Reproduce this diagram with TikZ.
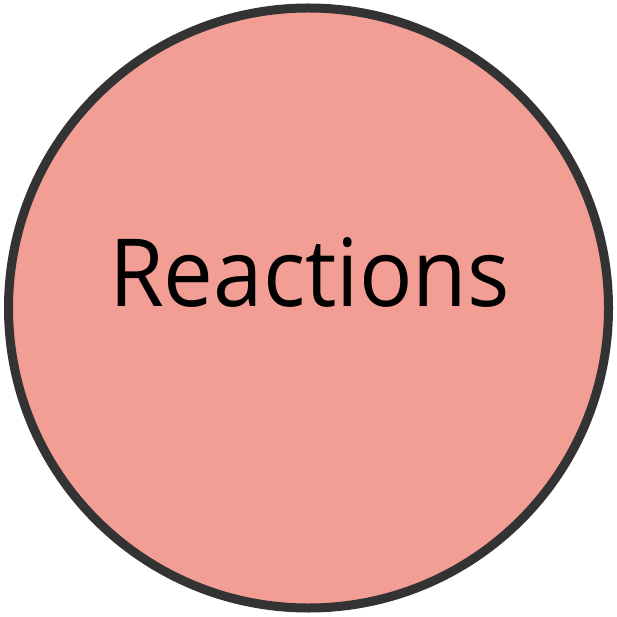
\documentclass[tikz,border=0pt]{standalone}
\usepackage{fontspec}
\setmainfont{Open Sans}
\definecolor{circfill}{RGB}{243,158,148}
\definecolor{circline}{RGB}{51,51,51}
\tikzset{
  bubble/.style={circle, draw=circline, fill=circfill, line width=9pt, minimum size=600pt, inner sep=0pt},
  label/.style={inner sep=0pt, anchor=base, font=\fontsize{94}{100}\selectfont}
}
\begin{document}
\begin{tikzpicture}[x=1pt,y=1pt]
\useasboundingbox (0,0) rectangle (617,616);
\node[bubble] (c) at (308.5,308) {};
\node[label] (t) at (309.5,309) {\scalebox{0.945}[1]{Reactions}};
\end{tikzpicture}
\end{document}
